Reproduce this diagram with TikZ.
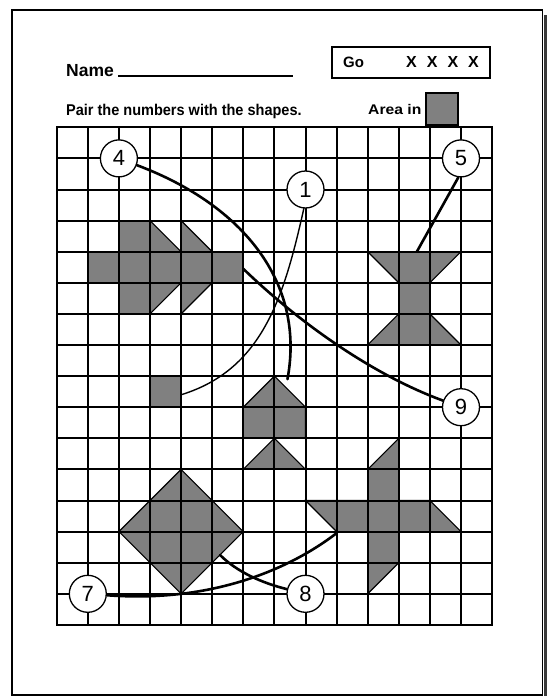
\documentclass[tikz,border=0pt]{standalone}
\usepackage{fontspec}
\setmainfont{Liberation Sans}
\usepackage{graphicx}
\definecolor{shade}{HTML}{808080}
\definecolor{shadowc}{HTML}{3A3A3A}
\begin{document}
\begin{tikzpicture}[x=1pt,y=-1pt,
  gl/.style={line width=2pt, line cap=rect},
  shp/.style={fill=shade, draw=black, line width=1.1pt, line join=miter},
  conn/.style={line width=2.6pt, line cap=round},
  thinconn/.style={line width=1.4pt, line cap=round},
  numc/.style={circle, draw, fill=white, line width=1.3pt, minimum size=37pt, inner sep=0pt, font=\fontsize{22}{22}\selectfont},
  lbl/.style={inner sep=0pt, anchor=base west}]
\useasboundingbox (0,0) rectangle (547,696);
\fill[white] (0,0) rectangle (547,696);
\fill[shadowc] (543.5,15) rectangle (547,696);
\draw[line width=1.5pt] (12,10) rectangle (542.5,695);

% header
\node[lbl, font=\bfseries\fontsize{17.5}{18}\selectfont] (name) at (66,76) {Name};
\coordinate (nl1) at (118,76);
\coordinate (nl2) at (293,76);
\draw[line width=1.5pt] (nl1) -- (nl2);
\node[lbl, font=\bfseries\fontsize{15.6}{16}\selectfont] (pair) at (66,115) {\scalebox{0.93}[1]{Pair the numbers with the shapes.}};
\node[draw, line width=1.5pt, minimum width=158pt, minimum height=31pt, anchor=north west, inner sep=0pt] (gobox) at (331,46) {};
\node[lbl, font=\bfseries\fontsize{15}{16}\selectfont] (go) at (343,67) {Go};
\node[lbl, font=\bfseries\fontsize{16}{16}\selectfont] (xs) at (406,67) {X\hspace{10pt}X\hspace{10pt}X\hspace{10pt}X};
\node[lbl, font=\bfseries\fontsize{14}{16}\selectfont] (area) at (368,114) {\scalebox{1.12}[1]{Area in}};
\node[draw, fill=shade, line width=1.5pt, minimum size=32pt, inner sep=0pt, anchor=north west] (areasq) at (425,92) {};

\begin{scope}[shift={(56.7,127.3)}, x=31.1pt, y=-31.1pt]
  % shapes
  \filldraw[shp] (1,4) -- (2,4) -- (2,3) -- (3,3) -- (4,4) -- (4,3) -- (5,4) -- (6,4) -- (6,5) -- (5,5) -- (4,6) -- (4,5) -- (3,6) -- (2,6) -- (2,5) -- (1,5) -- cycle;
  \filldraw[shp] (10,4) -- (13,4) -- (12,5) -- (12,6) -- (13,7) -- (10,7) -- (11,6) -- (11,5) -- cycle;
  \filldraw[shp] (3,8) rectangle (4,9);
  \filldraw[shp] (7,8) -- (8,9) -- (8,10) -- (6,10) -- (6,9) -- cycle;
  \filldraw[shp] (7,10) -- (8,11) -- (6,11) -- cycle;
  \filldraw[shp] (4,11) -- (6,13) -- (4,15) -- (2,13) -- cycle;
  \filldraw[shp] (11,10) -- (11,12) -- (12,12) -- (13,13) -- (11,13) -- (11,14) -- (10,15) -- (10,13) -- (9,13) -- (8,12) -- (10,12) -- (10,11) -- cycle;
  % grid
  \foreach \i in {0,...,14} \draw[gl] (\i,0) -- (\i,16);
  \foreach \j in {0,...,16} \draw[gl] (0,\j) -- (14,\j);
  % number circles
  \node[numc] (n4) at (2,1) {4};
  \node[numc] (n1) at (8,2) {1};
  \node[numc] (n5) at (13,1) {5};
  \node[numc] (n9) at (13,9) {9};
  \node[numc] (n7) at (1,15) {7};
  \node[numc] (n8) at (8,15) {8};
  % targets on shapes
  \coordinate (t1) at (6,4.55);
  \coordinate (t2) at (11.58,4);
  \coordinate (t3) at (4,8.6);
  \coordinate (t4) at (7.42,8.1);
  \coordinate (t5) at (5.25,13.75);
  \coordinate (t6) at (9,13.05);
  % connectors
  \draw[conn] (n4) .. controls (6.0,2.5) and (8.0,5.0) .. (t4);
  \draw[thinconn] (n1.265) .. controls (7.3,5.5) and (6.6,7.8) .. (t3);
  \draw[conn] (n5.262) -- (t2);
  \draw[conn] (n9) .. controls (10,7.9) and (7.6,6.1) .. (t1);
  \draw[conn] (n7) .. controls (5,15.3) and (7.5,14.2) .. (t6);
  \draw[conn] (n8) .. controls (6.6,14.65) and (5.8,14.3) .. (t5);
\end{scope}
\end{tikzpicture}
\end{document}
